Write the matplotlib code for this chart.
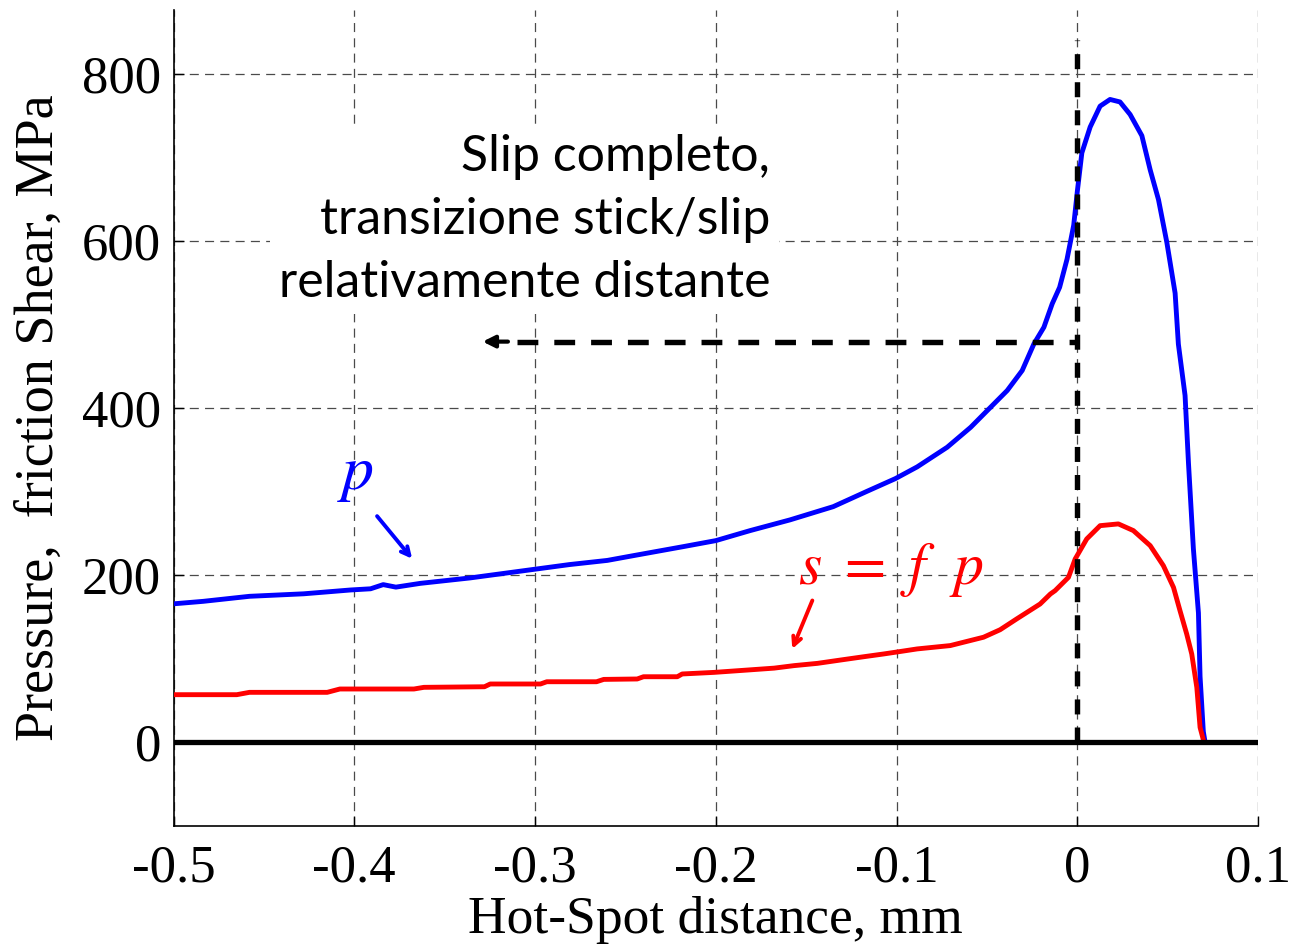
import matplotlib
matplotlib.use("Agg")
import matplotlib.pyplot as plt

# ---- data ----
blue_x = [-0.500, -0.4835, -0.458, -0.428, -0.402, -0.391, -0.384, -0.377, -0.3635, -0.336,
          -0.303, -0.281, -0.260, -0.2456, -0.218, -0.200, -0.181, -0.159, -0.135, -0.1164,
          -0.1006, -0.0886, -0.072, -0.059, -0.048, -0.0388, -0.0305, -0.024, -0.0185, -0.0139,
          -0.0098, -0.0057, -0.002, 0.0, 0.0025, 0.0071, 0.0126, 0.0181, 0.0236, 0.0292,
          0.0357, 0.0403, 0.0449, 0.0495, 0.0541, 0.0559, 0.0596, 0.0615, 0.0642, 0.067,
          0.0679, 0.0697, 0.0707, 0.1]
blue_y = [166, 169, 175, 178, 182.6, 184, 189, 186, 190.5, 197,
          206.6, 213, 218, 223.7, 234.5, 241.7, 253.7, 266.5, 282.4, 300.7,
          316, 330, 353.5, 377.4, 401.4, 421.4, 445.4, 477.4, 497.2, 525.3,
          545, 578.7, 619.5, 660, 706, 737, 762, 770, 767, 752,
          726.6, 685.7, 650, 599, 538, 477, 415.5, 334, 232, 155,
          79, 13, 0, 0]

red_x = [-0.500, -0.465, -0.458, -0.415, -0.408, -0.367, -0.3615, -0.328, -0.3248, -0.297,
         -0.2935, -0.266, -0.262, -0.2435, -0.240, -0.2213, -0.2186, -0.201, -0.1826, -0.1677,
         -0.1567, -0.1438, -0.131, -0.118, -0.107, -0.0977, -0.0886, -0.0703, -0.0519, -0.0427,
         -0.0335, -0.0206, -0.0149, -0.0123, -0.0049, -0.0012, 0.0052, 0.0126, 0.0227, 0.031,
         0.0403, 0.0476, 0.0532, 0.0568, 0.0605, 0.0633, 0.0661, 0.0679, 0.0701, 0.1]
red_y = [57.2, 57.2, 60, 60, 64, 64, 66, 66.7, 70, 70,
         72.7, 72.7, 75.5, 76, 78.7, 78.7, 82, 83.9, 86.7, 89,
         92, 94.7, 98.7, 102.7, 106, 109, 112, 116, 126, 135,
         148, 165.8, 177.8, 181.8, 197.7, 219.7, 243.7, 259.6, 261.7, 253.7,
         235.7, 211.7, 185.7, 157.8, 129.9, 105.9, 65.9, 18, 0, 0]

x_ticks = [-0.5, -0.4, -0.3, -0.2, -0.1, 0.0, 0.1]
x_tick_labels = ["-0.5", "-0.4", "-0.3", "-0.2", "-0.1", "0", "0.1"]
y_ticks = [0, 200, 400, 600, 800]
y_tick_labels = ["0", "200", "400", "600", "800"]

x_label = "Hot-Spot distance, mm"
y_label = "Pressure,  friction Shear, MPa"
note_text = "Slip completo,\ntransizione stick/slip\nrelativamente distante"

# ---- style ----
plt.rcParams["font.family"] = ["Liberation Serif", "DejaVu Serif"]
plt.rcParams["mathtext.fontset"] = "stix"
plt.rcParams["lines.scale_dashes"] = False

fig = plt.figure(figsize=(12.97, 9.52), dpi=100)
ax = fig.add_axes([0.1338, 0.1324, 0.8362, 0.857])

ax.set_xlim(-0.5, 0.1)
ax.set_ylim(-100, 877)

# grid
ax.set_xticks(x_ticks)
ax.set_xticklabels(x_tick_labels)
ax.set_yticks(y_ticks)
ax.set_yticklabels(y_tick_labels)
ax.grid(True, color="#4a4a4a", linewidth=0.9, dashes=(6.5, 4.5))
ax.set_axisbelow(True)

ax.spines["top"].set_visible(False)
ax.spines["right"].set_visible(False)
for s in ("left", "bottom"):
    ax.spines[s].set_linewidth(1.2)
ax.tick_params(direction="in", length=7, width=1, labelsize=38)
ax.tick_params(axis="x", pad=13)
ax.tick_params(axis="y", pad=9)

# curves
ax.plot(blue_x, blue_y, color="#0000ff", linewidth=3.5, zorder=3)
ax.plot(red_x, red_y, color="#ff0000", linewidth=3.5, zorder=3)
ax.axhline(0, color="black", linewidth=3.8, zorder=4)

# vertical dashed line at x = 0
ax.plot([0, 0], [0, 841], color="black", linewidth=3.9, dashes=(10.8, 9.4), zorder=4)
# horizontal dashed arrow
ax.plot([-0.31, 0], [480, 480], color="black", linewidth=3.9, dashes=(15, 11.5), zorder=4)
ax.annotate("", xy=(-0.329, 480), xytext=(-0.315, 480),
            arrowprops=dict(arrowstyle="-|>,head_length=0.7,head_width=0.35",
                            color="black", lw=3, shrinkA=0, shrinkB=0), zorder=4)

# note text with white box
ax.text(-0.17, 626, note_text, ha="right", va="center", multialignment="right",
        fontsize=36, family=["Lato", "DejaVu Sans"], linespacing=1.46, zorder=5,
        bbox=dict(facecolor="white", edgecolor="none", pad=6))

# labels p and s = f p with arrows
ax.text(-0.3996, 320, "$p$", color="#0000ff", fontsize=46, ha="center", va="center", zorder=5)
ax.annotate("", xy=(-0.368, 220), xytext=(-0.3874, 271),
            arrowprops=dict(arrowstyle="->,head_length=0.6,head_width=0.3",
                            color="#0000ff", lw=2.8, shrinkA=0, shrinkB=0), zorder=5)
ax.text(-0.103, 190, r"$s\ =\ f\ \ p$", color="#ff0000", fontsize=43, ha="center",
        va="baseline", zorder=5)
ax.annotate("", xy=(-0.1577, 112), xytext=(-0.1466, 170),
            arrowprops=dict(arrowstyle="->,head_length=0.6,head_width=0.3",
                            color="#ff0000", lw=2.8, shrinkA=0, shrinkB=0), zorder=5)

ax.set_xlabel(x_label, fontsize=38.5, labelpad=3)
ax.set_ylabel(y_label, fontsize=39, labelpad=12)

fig.savefig("out.png", dpi=100)
